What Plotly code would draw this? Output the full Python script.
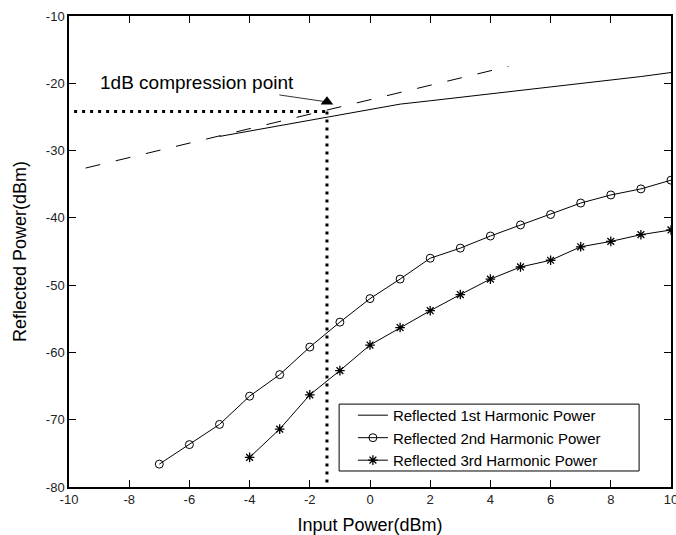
import plotly.graph_objects as go

# ---- data ----
x_first = [-5, -4, -3, -2, -1, 0, 1, 2, 3, 4, 5, 6, 7, 8, 9, 10]
y_first = [-27.9, -27.1, -26.3, -25.5, -24.8, -24.0, -23.1, -22.6, -22.1,
           -21.6, -21.1, -20.5, -20.0, -19.5, -19.0, -18.4]

x_second = [-7, -6, -5, -4, -3, -2, -1, 0, 1, 2, 3, 4, 5, 6, 7, 8, 9, 10]
y_second = [-76.6, -73.7, -70.7, -66.5, -63.3, -59.2, -55.5, -52.0, -49.1,
            -46.0, -44.5, -42.7, -41.05, -39.5, -37.8, -36.6, -35.7, -34.4]

x_third = [-4, -3, -2, -1, 0, 1, 2, 3, 4, 5, 6, 7, 8, 9, 10]
y_third = [-75.6, -71.4, -66.3, -62.7, -58.9, -56.3, -53.8, -51.4, -49.1,
           -47.3, -46.3, -44.3, -43.5, -42.5, -41.8]

x_extrap = [-9.45, 4.6]
y_extrap = [-32.6, -17.5]

p1db_x = -1.43
p1db_y = -24.2
x_hline = [-9.83, p1db_x]
y_hline = [p1db_y, p1db_y]
x_vline = [p1db_x, p1db_x]
y_vline = [p1db_y, -80]
tri_x = [p1db_x]
tri_y = [-22.75]

x_ticks = [-10, -8, -6, -4, -2, 0, 2, 4, 6, 8, 10]
y_ticks = [-80, -70, -60, -50, -40, -30, -20, -10]

label_text = "1dB compression point"
label_x, label_y = -5.75, -19.95
arrow_x, arrow_y = -1.53, -22.7

names = ["Reflected 1st Harmonic Power",
         "Reflected 2nd Harmonic Power",
         "Reflected 3rd Harmonic Power"]

FONT = "Liberation Sans, Arial, Helvetica, sans-serif"

fig = go.Figure()

# extrapolated linear line (dashed)
fig.add_trace(go.Scatter(x=x_extrap, y=y_extrap, mode="lines",
                         line=dict(color="black", width=1, dash="15px,16px"),
                         showlegend=False, hoverinfo="skip"))
# dotted guide lines
fig.add_trace(go.Scatter(x=x_hline, y=y_hline, mode="lines",
                         line=dict(color="black", width=3, dash="3px,5px"),
                         showlegend=False, hoverinfo="skip"))
fig.add_trace(go.Scatter(x=x_vline, y=y_vline, mode="lines",
                         line=dict(color="black", width=3, dash="3px,5px"),
                         showlegend=False, hoverinfo="skip"))

fig.add_trace(go.Scatter(x=x_first, y=y_first, mode="lines", name=names[0],
                         line=dict(color="black", width=1)))
fig.add_trace(go.Scatter(x=x_second, y=y_second, mode="lines+markers", name=names[1],
                         line=dict(color="black", width=1),
                         marker=dict(symbol="circle-open", size=8,
                                     color="black", line=dict(width=1, color="black"))))
fig.add_trace(go.Scatter(x=x_third, y=y_third, mode="lines+markers", name=names[2],
                         line=dict(color="black", width=1),
                         marker=dict(symbol="asterisk-open", size=8,
                                     color="black", line=dict(width=1.3, color="black"))))

# arrow head (triangle)
fig.add_trace(go.Scatter(x=tri_x, y=tri_y, mode="markers",
                         marker=dict(symbol="triangle-up", size=11, color="black"),
                         showlegend=False, hoverinfo="skip"))

fig.add_annotation(x=arrow_x, y=arrow_y, xref="x", yref="y",
                   ax=label_x, ay=label_y, axref="x", ayref="y",
                   text=label_text, showarrow=True, arrowhead=0,
                   arrowwidth=0.8, arrowcolor="black",
                   font=dict(family=FONT, size=19, color="black"))

# legend frame
fig.add_shape(type="rect", xref="paper", yref="paper",
              x0=0.4487, x1=0.947, y0=0.034, y1=0.176,
              line=dict(color="black", width=1), fillcolor="rgba(0,0,0,0)", layer="above")

axis_common = dict(showline=True, linecolor="black", linewidth=1.5, mirror="ticks",
                   ticks="inside", ticklen=7, tickwidth=1, tickcolor="black",
                   showgrid=False, zeroline=False,
                   tickfont=dict(family=FONT, size=13, color="#222"))

fig.update_xaxes(range=[-10, 10], tickvals=x_ticks, ticktext=[str(v) for v in x_ticks],
                 ticklabeloverflow="allow",
                 title=dict(text="Input Power(dBm)", font=dict(family=FONT, size=18, color="black"),
                            standoff=14),
                 **axis_common)
fig.update_yaxes(range=[-80, -10], tickvals=y_ticks, ticktext=[str(v) for v in y_ticks],
                 title=dict(text="Reflected Power(dBm)", font=dict(family=FONT, size=18, color="black"),
                            standoff=15),
                 **axis_common)

fig.update_layout(
    width=676, height=535,
    margin=dict(l=69, r=5, t=16, b=48, autoexpand=False),
    paper_bgcolor="white", plot_bgcolor="white",
    font=dict(family=FONT, color="black"),
    showlegend=True,
    legend=dict(x=0.4716, y=0.187, xanchor="left", yanchor="top",
                bgcolor="rgba(0,0,0,0)", borderwidth=0,
                font=dict(family=FONT, size=15, color="black"),
                tracegroupgap=0, itemwidth=30),
)

fig.write_html("out.html")
